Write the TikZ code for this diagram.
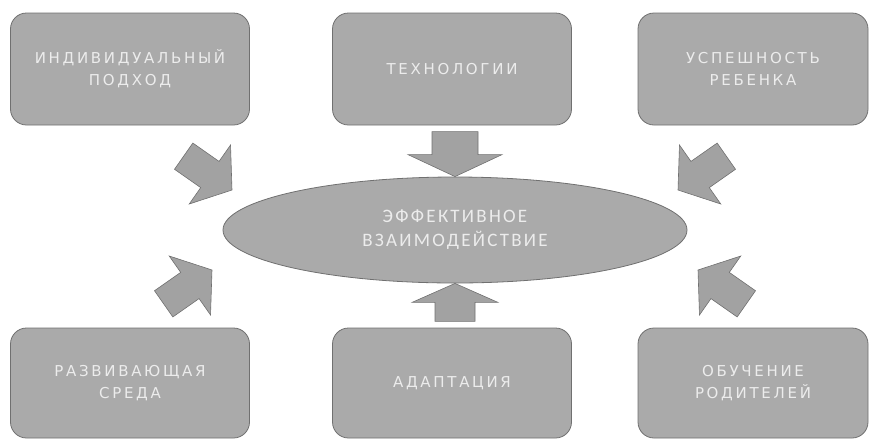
\documentclass[tikz,border=0pt]{standalone}
\usepackage{fontspec}
\setmainfont{DejaVu Sans}
\newfontfamily\boxfont[LetterSpace=18]{DejaVu Sans}
\newfontfamily\ellfont[LetterSpace=12]{Carlito}
\usepackage{tikz}
\usetikzlibrary{positioning,shapes.geometric}
\definecolor{boxfill}{RGB}{170,170,170}
\definecolor{boxline}{RGB}{112,112,112}
\definecolor{arrfill}{RGB}{162,162,162}
\definecolor{labeltext}{RGB}{236,236,236}
\tikzset{
  topic/.style={draw=boxline,fill=boxfill,rounded corners=16pt,line width=0.8pt,
    minimum width=239pt,minimum height=112pt,align=center,text=labeltext,
    font=\boxfont\fontsize{15}{22}\selectfont},
  goal/.style={ellipse,draw=boxline,fill=boxfill,line width=0.8pt,
    minimum width=464pt,minimum height=106pt,align=center,text=labeltext,
    font=\ellfont\fontsize{19}{24}\selectfont},
  arrowpaint/.style={draw=boxline,fill=arrfill,line width=0.6pt,line join=miter},
  % block arrow, tip at the origin: length/shaft/head/head length
  pics/fatarrow/.style args={#1/#2/#3/#4}{code={
    \filldraw[arrowpaint] (0,0) -- (-#4,#3/2) -- (-#4,#2/2) -- (-#1,#2/2)
      -- (-#1,-#2/2) -- (-#4,-#2/2) -- (-#4,-#3/2) -- cycle;
  }},
}
\begin{document}
\begin{tikzpicture}[x=1pt,y=-1pt]
  \useasboundingbox (0,0) rectangle (872,440);
  % centre
  \node[goal] (core) at (455,230) {ЭФФЕКТИВНОЕ\\ВЗАИМОДЕЙСТВИЕ};
  % top row
  \node[topic] (indiv) at (130,69) {ИНДИВИДУАЛЬНЫЙ\\ПОДХОД};
  \node[topic] (tech) at (452,69) {ТЕХНОЛОГИИ};
  \node[topic,minimum width=230pt] (success) at (753,69) {УСПЕШНОСТЬ\\РЕБЕНКА};
  % bottom row
  \node[topic,minimum height=110pt] (env) at (130,383) {РАЗВИВАЮЩАЯ\\СРЕДА};
  \node[topic,minimum height=110pt] (adapt) at (452,383) {АДАПТАЦИЯ};
  \node[topic,minimum height=110pt,minimum width=230pt] (parents) at (753,383) {ОБУЧЕНИЕ\\РОДИТЕЛЕЙ};
  % arrows into the centre
  \pic[rotate=-90] at (core.north) {fatarrow=45/46/94/22};
  \pic[rotate=90] at (core.south) {fatarrow=38/40/86/19};
  \pic[rotate=-35] at (232,190) {fatarrow=59/32/72/27};
  \pic[rotate=-145] at (678,190) {fatarrow=59/32/72/27};
  \pic[rotate=35] at (212,270) {fatarrow=59/32/72/27};
  \pic[rotate=145] at (698,270) {fatarrow=59/32/72/27};
\end{tikzpicture}
\end{document}
